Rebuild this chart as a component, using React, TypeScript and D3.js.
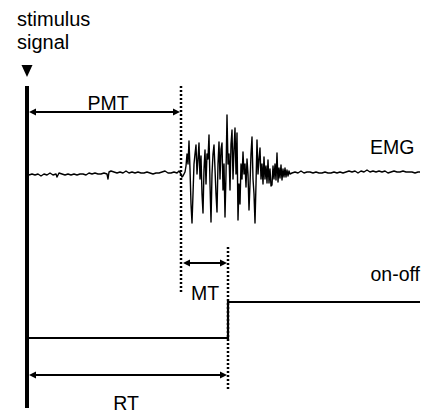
import React from "react";
import * as d3 from "d3";

// Time axis in arbitrary units (stimulus at t = 0)
const stimulusTime = 0;
const emgOnsetTime = 154;
const responseTime = 201;
const endTime = 393;

// EMG trace: [time, amplitude]
const emgSamples: [number, number][] = [
  [2, -1], [5, 0], [8, -1], [11, 0], [14, -2], [17, 0], [20, -1], [23, 1], [26, -1], [29, 0], [30, -3], [32, 1],
  [35, 0], [38, -1], [41, 0], [44, -1], [47, 0], [50, -1], [53, 0], [56, 0], [59, -1], [62, 1], [65, 0], [68, 1],
  [71, 0], [74, 0], [77, 1], [80, 0], [81, -5], [82, 2], [84, 3], [87, 2], [90, 1], [93, 2], [96, 1], [99, 3],
  [102, 1], [105, 2], [108, 1], [111, 2], [114, 1], [117, 1], [120, 2], [123, 1], [126, 0], [129, 1], [132, 1],
  [135, 2], [138, 3], [141, 1], [144, 1], [147, 2], [150, 1], [152, 3], [154, 0], [155, -3], [156, -2], [158, 2],
  [159, 8], [160, 20], [161, 10], [162, 33], [163, 5], [164, -30], [165, -49], [166, -20], [167, 10], [168, 20],
  [169, 29], [170, 0], [171, 15], [172, 31], [173, -5], [174, 18], [175, -20], [176, -39], [177, 5], [178, 24],
  [179, -10], [180, 20], [181, 15], [182, 39], [183, -10], [184, -48], [185, 0], [186, 20], [187, 29], [188, 5],
  [189, -20], [190, -38], [191, 10], [192, 32], [193, -5], [194, 25], [195, 31], [196, -16], [197, 10], [198, -43],
  [199, 0], [200, 59], [201, 10], [202, 20], [203, -16], [204, 30], [205, 44], [206, -5], [207, 25], [208, 46],
  [209, 0], [210, 41], [211, -46], [212, -10], [213, -30], [214, 10], [215, -5], [216, 22], [217, 0], [218, 10],
  [219, -13], [220, 15], [221, 0], [222, -36], [223, -10], [224, 20], [225, 37], [226, -5], [227, -20], [228, -49],
  [229, -10], [230, 34], [231, 0], [232, 15], [233, 26], [234, -5], [235, 10], [236, -10], [237, 17], [238, -5],
  [239, 8], [240, -9], [241, 14], [242, -9], [243, 5], [244, -12], [245, -11], [246, 8], [247, -5], [248, 10],
  [249, -6], [250, 21], [251, -8], [252, 6], [253, -4], [254, 9], [255, -6], [256, 5], [257, -3], [258, 6],
  [259, -3], [260, 4], [261, -2], [262, 3], [263, 0], [265, 1], [268, 2], [271, 1], [274, 3], [277, 1], [280, 2],
  [283, 2], [286, 1], [289, 2], [292, 1], [295, 1], [298, 2], [301, 1], [304, 1], [307, 2], [310, 1], [313, 2],
  [316, 1], [319, 2], [322, 3], [325, 2], [328, 3], [331, 1], [334, 3], [337, 2], [340, 4], [343, 2], [346, 3],
  [349, 2], [352, 3], [355, 2], [358, 3], [361, 1], [364, 2], [367, 3], [370, 2], [373, 2], [376, 3], [379, 2],
  [382, 2], [385, 2], [388, 1], [391, 2], [393, 2],
];

// On-off switch signal: [time, state]
const onOffSteps: [number, number][] = [
  [stimulusTime, 0], [responseTime, 0], [responseTime, 1], [endTime, 1],
];

// Interval annotations
const intervalNames = ["PMT", "MT", "RT"];
const intervalStarts = [stimulusTime, emgOnsetTime, stimulusTime];
const intervalEnds = [emgOnsetTime, responseTime, responseTime];

export default function App() {
  const x = d3.scaleLinear().domain([0, 400]).range([27, 427]);
  const yEmg = d3.scaleLinear().domain([-60, 60]).range([234, 114]);
  const yOnOff = d3.scaleLinear().domain([0, 1]).range([338, 302]);

  const emgLine = d3
    .line<[number, number]>()
    .x((d) => x(d[0]))
    .y((d) => yEmg(d[1]));
  const onOffLine = d3
    .line<[number, number]>()
    .x((d) => x(d[0]))
    .y((d) => yOnOff(d[1]));

  const arrowY = [112, 263, 375];
  const labelPos: { x: number; y: number }[] = [
    { x: 108, y: 110 },
    { x: 205, y: 300 },
    { x: 126, y: 410 },
  ];

  const font = "Liberation Sans, Arial, sans-serif";
  const sx = x(stimulusTime);

  const arrow = (x1: number, x2: number, y: number, key: string) => {
    const h = 7;
    const w = 3.5;
    return (
      <g key={key}>
        <line x1={x1 + 3} x2={x2 - 3} y1={y} y2={y} stroke="#000" strokeWidth={2} />
        <path d={`M${x1},${y} L${x1 + h},${y - w} L${x1 + h},${y + w} Z`} fill="#000" />
        <path d={`M${x2},${y} L${x2 - h},${y - w} L${x2 - h},${y + w} Z`} fill="#000" />
      </g>
    );
  };

  return (
    <svg
      width={425}
      height={414}
      style={{ position: "absolute", left: 0, top: 0, background: "#fff" }}
      fontFamily={font}
    >
      <rect width={425} height={414} fill="#fff" />
      {/* stimulus label and marker */}
      <text x={17} y={26} fontSize={20}>stimulus</text>
      <text x={17} y={49} fontSize={20}>signal</text>
      <path d={`M${sx - 5.5},65 L${sx + 5.5},65 L${sx},77 Z`} fill="#000" />
      <line x1={sx} x2={sx} y1={86} y2={408} stroke="#000" strokeWidth={4} />

      {/* dotted markers */}
      <line
        x1={x(emgOnsetTime)}
        x2={x(emgOnsetTime)}
        y1={86}
        y2={292}
        stroke="#000"
        strokeWidth={2.5}
        strokeDasharray="2 2"
      />
      <line
        x1={x(responseTime)}
        x2={x(responseTime)}
        y1={247}
        y2={390}
        stroke="#000"
        strokeWidth={2.5}
        strokeDasharray="2 2"
      />

      {/* EMG trace */}
      <path d={emgLine(emgSamples) || ""} fill="none" stroke="#000" strokeWidth={1.4} strokeLinejoin="round" />
      <text x={370} y={154} fontSize={19.5}>EMG</text>

      {/* on-off trace */}
      <path d={onOffLine(onOffSteps) || ""} fill="none" stroke="#000" strokeWidth={2.2} />
      <text x={420} y={281} fontSize={19.5} textAnchor="end">on-off</text>

      {/* interval arrows */}
      {intervalNames.map((name, i) => (
        <g key={name}>
          {arrow(x(intervalStarts[i]) + 2, x(intervalEnds[i]) - 1, arrowY[i], name + "-a")}
          <text x={labelPos[i].x} y={labelPos[i].y} fontSize={19.5} textAnchor="middle">
            {name}
          </text>
        </g>
      ))}
    </svg>
  );
}
